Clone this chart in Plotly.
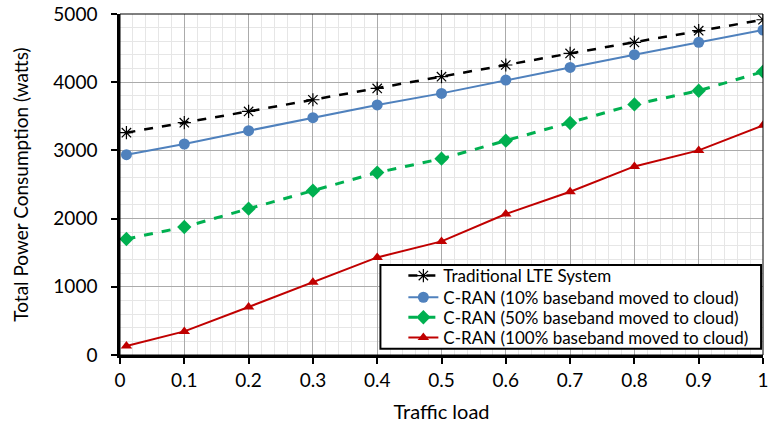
import plotly.graph_objects as go

x = [0.01, 0.1, 0.2, 0.3, 0.4, 0.5, 0.6, 0.7, 0.8, 0.9, 1.0]
lte = [3260, 3406, 3572, 3743, 3909, 4081, 4252, 4422, 4584, 4755, 4916]
cran10 = [2937, 3094, 3289, 3480, 3666, 3836, 4032, 4217, 4403, 4584, 4765]
cran50 = [1701, 1877, 2145, 2409, 2675, 2878, 3142, 3402, 3674, 3875, 4154]
cran100 = [132, 346, 704, 1065, 1431, 1666, 2067, 2394, 2765, 3000, 3367]

names = ["Traditional LTE System",
         "C-RAN (10% baseband moved to cloud)",
         "C-RAN (50% baseband moved to cloud)",
         "C-RAN (100% baseband moved to cloud)"]

x_ticks = [0, 0.1, 0.2, 0.3, 0.4, 0.5, 0.6, 0.7, 0.8, 0.9, 1]
x_ticklabels = ["0", "0.1", "0.2", "0.3", "0.4", "0.5", "0.6", "0.7", "0.8", "0.9", "1"]
y_ticks = [0, 1000, 2000, 3000, 4000, 5000]

legend_ids = ["legend", "legend2", "legend3", "legend4"]
legend_rows = [0.2317, 0.168, 0.1094, 0.0499]

fig = go.Figure()
fig.add_trace(go.Scatter(x=x, y=lte, name=names[0], mode="lines+markers", legend=legend_ids[0],
                         showlegend=True,
                         line=dict(color="black", width=2.5, dash="dash"),
                         marker=dict(symbol="asterisk-open", size=11, color="black",
                                     line=dict(color="black", width=1.2))))
fig.add_trace(go.Scatter(x=x, y=cran10, name=names[1], mode="lines+markers", legend=legend_ids[1],
                         showlegend=True,
                         line=dict(color="#4f81bd", width=2),
                         marker=dict(symbol="circle", size=11, color="#4f81bd")))
fig.add_trace(go.Scatter(x=x, y=cran50, name=names[2], mode="lines+markers", legend=legend_ids[2],
                         showlegend=True,
                         line=dict(color="#00b050", width=3, dash="dash"),
                         marker=dict(symbol="diamond", size=11, color="#00b050")))
fig.add_trace(go.Scatter(x=x, y=cran100, name=names[3], mode="lines+markers", legend=legend_ids[3],
                         showlegend=True,
                         line=dict(color="#c00000", width=2),
                         marker=dict(symbol="triangle-up", size=10, color="#c00000")))

font = "Lato, Open Sans, sans-serif"
legend_style = dict(x=0.4407, xanchor="left", yanchor="middle", visible=True,
                    bgcolor="rgba(0,0,0,0)", borderwidth=0, font=dict(size=17))
fig.update_layout(
    width=771, height=426,
    margin=dict(l=120, r=2, t=14, b=71),
    showlegend=True,
    plot_bgcolor="white", paper_bgcolor="white",
    font=dict(family=font, size=17, color="black"),
    legend=dict(y=legend_rows[0], **legend_style),
    legend2=dict(y=legend_rows[1], **legend_style),
    legend3=dict(y=legend_rows[2], **legend_style),
    legend4=dict(y=legend_rows[3], **legend_style),
)
fig.update_xaxes(range=[0, 1], tickvals=x_ticks, ticktext=x_ticklabels,
                 showline=True, linecolor="black", linewidth=2.5, mirror=False,
                 ticks="outside", ticklen=6, tickwidth=2, tickcolor="black",
                 showgrid=True, gridcolor="#ababab", gridwidth=1,
                 minor=dict(dtick=0.02, showgrid=True, gridcolor="#e6e6e6", gridwidth=1),
                 zeroline=False, ticklabeloverflow="allow",
                 title=dict(text="Traffic load", standoff=16, font=dict(size=20)),
                 tickfont=dict(size=19))
fig.update_yaxes(range=[0, 5000], tickvals=y_ticks,
                 showline=True, linecolor="black", linewidth=2.5, mirror=False,
                 ticks="outside", ticklen=6, tickwidth=2, tickcolor="black",
                 showgrid=True, gridcolor="#ababab", gridwidth=1,
                 minor=dict(dtick=200, showgrid=True, gridcolor="#e6e6e6", gridwidth=1),
                 zeroline=False, ticklabelstandoff=10,
                 title=dict(text="Total Power Consumption (watts)", standoff=20, font=dict(size=19)),
                 tickfont=dict(size=19))
# thin top/right border
fig.add_shape(type="rect", xref="paper", yref="paper", x0=0, y0=0, x1=1, y1=1,
              line=dict(color="black", width=1), layer="above")
# legend box
fig.add_shape(type="rect", xref="paper", yref="paper", x0=0.405, y0=0.018, x1=0.997, y1=0.264,
              line=dict(color="black", width=2), fillcolor="white", layer="above")
fig.write_html("out.html", config={"displayModeBar": False},
               post_script="document.body.style.margin='0';document.body.style.overflow='hidden';")
